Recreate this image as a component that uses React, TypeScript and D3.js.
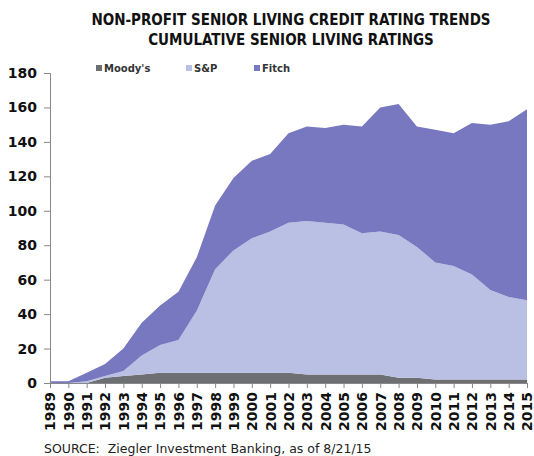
import { useRef, useEffect } from "react";
import * as d3 from "d3";

const years = d3.range(1989, 2016);
const moodys = [0, 0, 0, 3, 4, 5, 6, 6, 6, 6, 6, 6, 6, 6, 5, 5, 5, 5, 5, 3, 3, 2, 2, 2, 2, 2, 2];
const sp = [0, 0, 1, 1, 3, 11, 16, 19, 36, 60, 71, 78, 82, 87, 89, 88, 87, 82, 83, 83, 76, 68, 66, 61, 52, 48, 46];
const fitch = [1, 1, 5, 7, 13, 19, 23, 28, 31, 37, 42, 45, 45, 52, 55, 55, 58, 62, 72, 76, 70, 77, 77, 88, 96, 102, 111];
const seriesNames = ["Moody's", "S&P", "Fitch"];
const colors = ["#6e6f73", "#b9c0e3", "#7878c0"];
const yTicks = [0, 20, 40, 60, 80, 100, 120, 140, 160, 180];
const titleLines = ["NON-PROFIT SENIOR LIVING CREDIT RATING TRENDS", "CUMULATIVE SENIOR LIVING RATINGS"];

const width = 534;
const height = 456;
const margin = { left: 50, right: 7, top: 73, bottom: 73 };

export default function App() {
  const ref = useRef<SVGSVGElement>(null);

  useEffect(() => {
    if (!ref.current) return;
    const svg = d3.select(ref.current);
    svg.selectAll("*").remove();

    const rows = years.map((y, i) => ({ year: y, "Moody's": moodys[i], "S&P": sp[i], Fitch: fitch[i] }));
    const stacked = d3.stack<any>().keys(seriesNames)(rows);

    const x = d3.scaleLinear().domain([1989, 2015]).range([margin.left, width - margin.right]);
    const y = d3.scaleLinear().domain([0, 180]).range([height - margin.bottom, margin.top]);

    const area = d3
      .area<any>()
      .x((d) => x(d.data.year))
      .y0((d) => y(d[0]))
      .y1((d) => y(d[1]));

    svg
      .append("g")
      .selectAll("path")
      .data(stacked)
      .join("path")
      .attr("d", (d) => area(d))
      .attr("fill", (_, i) => colors[i]);

    // Titles
    svg.append("g").selectAll("text").data(titleLines).join("text")
      .attr("x", 291)
      .attr("y", (_, i) => 25 + i * 20)
      .attr("text-anchor", "middle")
      .attr("font-family", "'DejaVu Sans Condensed', 'DejaVu Sans', sans-serif")
      .attr("font-weight", "bold")
      .attr("font-size", 15)
      .attr("fill", "#111")
      .text((d) => d);

    // Legend
    const legendX = [96, 186, 254];
    const lg = svg.append("g").selectAll("g").data(seriesNames).join("g")
      .attr("transform", (_, i) => `translate(${legendX[i]}, 72)`);
    lg.append("rect").attr("x", 0).attr("y", -7).attr("width", 6).attr("height", 6)
      .attr("fill", (_, i) => colors[i]);
    lg.append("text").attr("x", 8).attr("y", 0).attr("font-size", 10).attr("font-weight", "bold")
      .attr("fill", "#333").text((d) => d);

    // Y axis
    const yAxis = svg.append("g").attr("transform", `translate(${margin.left},0)`)
      .call(d3.axisLeft(y).tickValues(yTicks).tickSize(6).tickPadding(7));
    yAxis.select(".domain").attr("stroke", "#888");
    yAxis.selectAll(".tick line").attr("stroke", "#888");
    yAxis.selectAll("text").attr("font-size", 14).attr("font-weight", "bold").attr("fill", "#111")
      .attr("font-family", "DejaVu Sans");

    // X axis
    const xAxis = svg.append("g").attr("transform", `translate(0,${height - margin.bottom})`)
      .call(d3.axisBottom(x).tickValues(years).tickSize(5).tickFormat(d3.format("d")));
    xAxis.select(".domain").attr("stroke", "#888");
    xAxis.selectAll(".tick line").attr("stroke", "#888");
    xAxis.selectAll("text")
      .attr("transform", "rotate(-90)")
      .attr("text-anchor", "end")
      .attr("x", -9)
      .attr("y", 0)
      .attr("dy", "0.35em")
      .attr("font-size", 14)
      .attr("font-weight", "bold")
      .attr("fill", "#111")
      .attr("font-family", "DejaVu Sans");

    // Source
    svg.append("text").attr("x", 44).attr("y", 453).attr("font-size", 12.5).attr("fill", "#222")
      .attr("xml:space", "preserve")
      .text("SOURCE:  Ziegler Investment Banking, as of 8/21/15");
  }, []);

  return (
    <svg
      ref={ref}
      width={width}
      height={height}
      style={{ position: "absolute", left: 0, top: 0, fontFamily: "'DejaVu Sans', sans-serif", background: "#fff" }}
    />
  );
}
